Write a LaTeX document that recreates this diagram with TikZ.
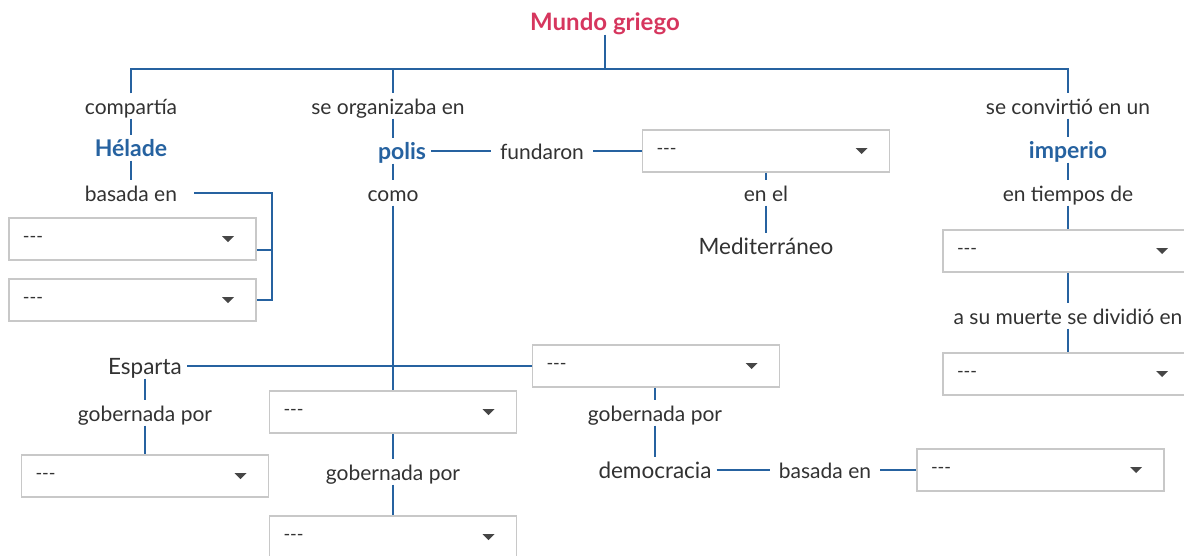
\documentclass[tikz,border=0pt]{standalone}
\usepackage{fontspec}
\setmainfont{Lato}
\usepackage{tikz}
\usetikzlibrary{calc,positioning}
\definecolor{azul}{RGB}{38,98,160}
\definecolor{rojo}{RGB}{214,54,94}
\definecolor{texto}{RGB}{50,50,50}
\definecolor{borde}{RGB}{200,200,200}
\definecolor{flecha}{RGB}{70,70,70}
\newcommand{\vacio}{-{}-{}-}

\begin{document}
\begin{tikzpicture}[x=1pt,y=-1pt,
		linea/.style={draw=azul,line width=2.7pt},
		texto/.style={text height=17pt,text depth=0pt,inner ysep=4pt},
		enlace/.style={texto,text=texto,font=\fontsize{21}{24}\selectfont,inner xsep=9pt},
		concepto/.style={texto,text=texto,font=\fontsize{22.5}{26}\selectfont,inner xsep=5pt},
		clave/.style={texto,text=azul,font=\bfseries\fontsize{23}{26}\selectfont,inner xsep=5pt},
		titulo/.style={texto,text=rojo,font=\bfseries\fontsize{24}{28}\selectfont,inner xsep=5pt},
		caja/.style={draw=borde,line width=1.8pt,minimum width=247pt,minimum height=42pt,
			text width=219pt,align=left,inner xsep=14pt,text=texto,font=\fontsize{18}{20}\selectfont,
			path picture={\fill[flecha] ($(path picture bounding box.east)+(-34,-3)$) -- ++(12,0) -- ++(-6,6) -- cycle;}}]
	\useasboundingbox (0,0) rectangle (1184,555);
	
	\node[titulo] (mundo) at (605,22) {Mundo griego};
	\coordinate (barra) at (605,69);
	
	% Helade
	\node[enlace] (comparte) at (131,106) {compartía};
	\node[clave] (helade) at (131,148) {Hélade};
	\node[enlace] (basada) at (131,193) {basada en};
	\node[caja] (b1) at (132.5,239) {\vacio};
	\node[caja] (b2) at (132.5,300) {\vacio};
	\coordinate (codo) at (272,193);
	
	% polis
	\node[enlace] (organiza) at (388,106) {se organizaba en};
	\node[clave] (polis) at (402,151) {polis};
	\node[enlace] (fundaron) at (542,151) {fundaron};
	\node[caja] (b3) at (766,151) {\vacio};
	\node[enlace] (enel) at (766,193) {en el};
	\node[concepto] (medit) at (766,246) {Mediterráneo};
	\node[enlace] (como) at (393,193) {como};
	\node[concepto] (esparta) at (145,366) {Esparta};
	\node[caja] (b4) at (656,366) {\vacio};
	\node[caja] (b5) at (393,412) {\vacio};
	\node[enlace] (gob2) at (393,472) {gobernada por};
	\node[caja] (b6) at (393,537) {\vacio};
	\node[enlace] (gob1) at (145,413) {gobernada por};
	\node[caja] (b7) at (145,476) {\vacio};
	\node[enlace] (gob3) at (655,413) {gobernada por};
	\node[concepto] (democ) at (655,470) {democracia};
	\node[enlace] (basada2) at (825,470) {basada en};
	\node[caja] (b8) at (1040.5,470) {\vacio};
	
	% imperio
	\node[enlace] (convierte) at (1068,106) {se convirtió en un};
	\node[clave] (imperio) at (1068,150) {imperio};
	\node[enlace] (tiempos) at (1068,193) {en tiempos de};
	\node[caja] (b9) at (1066.5,251) {\vacio};
	\node[enlace] (muerte) at (1068,316) {a su muerte se dividió en};
	\node[caja] (b10) at (1066.5,374) {\vacio};
	
	\draw[linea] (mundo) -- (mundo |- barra);
	\draw[linea] (comparte) -- (comparte |- barra) -- (convierte |- barra) -- (convierte);
	\draw[linea] (como |- barra) -- (como |- organiza.north);
	
	\draw[linea] (comparte) -- (helade);
	\draw[linea] (helade) -- (basada);
	\draw[linea,shorten <=8pt] (basada) -- (codo) -- (codo |- b2) -- (b2);
	\draw[linea] (b1.east |- 0,250) -- (codo |- 0,250);
	
	\draw[linea] (como |- organiza.south) -- (como |- polis.north);
	\draw[linea] (como |- polis.south) -- (como);
	\draw[linea] (polis) -- (fundaron);
	\draw[linea] (fundaron) -- (b3);
	\draw[linea] (b3.south -| enel) -- (enel);
	\draw[linea] (enel) -- (medit);
	\draw[linea] (como) -- (b5);
	\draw[linea] (esparta) -- (b4);
	\draw[linea] (esparta) -- (gob1);
	\draw[linea] (gob1) -- (b7);
	\draw[linea] (b5) -- (gob2);
	\draw[linea] (gob2) -- (b6);
	\draw[linea] (b4.south -| gob3) -- (gob3);
	\draw[linea] (gob3) -- (democ);
	\draw[linea] (democ) -- (basada2);
	\draw[linea] (basada2) -- (b8);
	
	\draw[linea] (convierte) -- (imperio);
	\draw[linea] (imperio) -- (tiempos);
	\draw[linea] (tiempos) -- (b9.north -| tiempos);
	\draw[linea] (b9.south -| muerte) -- (muerte);
	\draw[linea] (muerte) -- (b10.north -| muerte);
\end{tikzpicture}
\end{document}
